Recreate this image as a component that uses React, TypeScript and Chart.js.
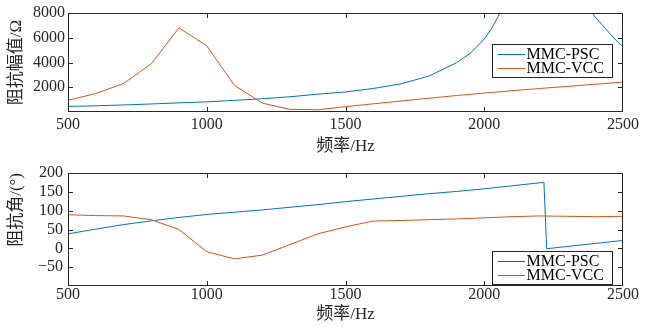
import React, { useEffect, useRef } from 'react';
import { Chart, registerables } from 'chart.js';

Chart.register(...registerables);

// ---------------- data ----------------
const magFreqPSC = [500, 600, 700, 800, 900, 1000, 1100, 1200, 1300, 1400, 1500, 1600, 1700, 1800, 1900,
  1950, 2000, 2025, 2050, 2075, 2100, 2150, 2200, 2250, 2300, 2350, 2375, 2400, 2425, 2450, 2475, 2500];
const magPSC = [450, 500, 570, 650, 740, 820, 940, 1070, 1230, 1440, 1620, 1900, 2280, 2900, 3980,
  4750, 5900, 6700, 7700, 9100, 11000, 19000, 60000, 45000, 17000, 10600, 8500, 7650, 7050, 6400, 5800, 5250];

const magFreqVCC = [500, 600, 700, 800, 900, 1000, 1100, 1200, 1300, 1400, 1500, 1600, 1700, 1800, 1900,
  2000, 2100, 2200, 2300, 2400, 2500];
const magVCC = [950, 1490, 2300, 3900, 6800, 5350, 2140, 720, 210, 180, 430, 660, 890, 1110, 1330,
  1530, 1720, 1900, 2070, 2240, 2420];

const phaseFreqPSC = [500, 600, 700, 800, 900, 1000, 1100, 1200, 1300, 1400, 1500, 1600, 1700, 1800, 1900,
  2000, 2100, 2200, 2215, 2225, 2300, 2400, 2500];
const phasePSC = [38.5, 51, 63, 73, 82, 90, 96, 102, 109, 116, 124, 131, 138, 145, 151,
  158, 166, 174, 175.5, -1, 5, 13, 21];

const phaseFreqVCC = [500, 600, 700, 800, 900, 1000, 1100, 1200, 1300, 1400, 1500, 1600, 1700, 1800, 1900,
  2000, 2100, 2200, 2300, 2400, 2500];
const phaseVCC = [89, 87, 86, 76, 50, -9, -28, -18, 10, 38.5, 57, 72.5, 74, 76, 78,
  81, 84, 86, 85, 84, 85];

const seriesNames = ['MMC-PSC', 'MMC-VCC'];
const xTitle = '频率/Hz';
const magTitle = '阻抗幅值/Ω';
const phaseTitle = '阻抗角/(°)';

// ---------------- styles ----------------
const FONT = "'Liberation Serif', 'Times New Roman', 'Noto Sans CJK SC', serif";
const AXIS_COLOR = '#262626';
const BLUE = '#0072BD';
const ORANGE = '#D95319';

const toPts = (xs: number[], ys: number[]) => xs.map((x, i) => ({ x, y: ys[i] }));
const fmt = (v: number) => (v < 0 ? '\u2212' + String(-v) : String(v));

const matlabAxes = {
  id: 'matlabAxes',
  afterDatasetsDraw(chart: any, _args: any, opts: any) {
    const { ctx, chartArea: a, scales } = chart;
    ctx.save();
    ctx.strokeStyle = AXIS_COLOR;
    ctx.lineWidth = 1;
    const tl = 5;
    ctx.beginPath();
    scales.x.ticks.forEach((t: any) => {
      const px = Math.round(scales.x.getPixelForValue(t.value)) + 0.5;
      if (px <= a.left + 1.5 || px >= a.right - 1.5) return;
      ctx.moveTo(px, a.bottom);
      ctx.lineTo(px, a.bottom - tl);
      ctx.moveTo(px, a.top);
      ctx.lineTo(px, a.top + tl);
    });
    scales.y.ticks.forEach((t: any) => {
      const py = Math.round(scales.y.getPixelForValue(t.value)) + 0.5;
      if (py <= a.top + 1.5 || py >= a.bottom - 1.5) return;
      ctx.moveTo(a.left, py);
      ctx.lineTo(a.left + tl, py);
      ctx.moveTo(a.right, py);
      ctx.lineTo(a.right - tl, py);
    });
    ctx.stroke();
    ctx.strokeRect(a.left + 0.5, a.top + 0.5, a.right - a.left - 1, a.bottom - a.top - 1);

    // legend box
    const lg = opts.legend;
    if (lg) {
      ctx.fillStyle = '#ffffff';
      ctx.fillRect(lg.x, lg.y, lg.w, lg.h);
      ctx.strokeStyle = AXIS_COLOR;
      ctx.strokeRect(lg.x + 0.5, lg.y + 0.5, lg.w, lg.h);
      ctx.font = `16px ${FONT}`;
      ctx.textBaseline = 'middle';
      ctx.textAlign = 'left';
      chart.data.datasets.forEach((ds: any, i: number) => {
        const ry = Math.round(lg.y + lg.rows[i]) + 0.5;
        ctx.strokeStyle = ds.borderColor;
        ctx.beginPath();
        ctx.moveTo(lg.x + 5.5, ry);
        ctx.lineTo(lg.x + 33, ry);
        ctx.stroke();
        ctx.fillStyle = '#000000';
        ctx.fillText(ds.label, lg.x + 34.5, ry + 0.5);
      });
    }
    ctx.restore();
  },
};

function makeConfig(opts: any): any {
  const tickFont = { family: FONT, size: 16, lineHeight: 1 };
  const titleFont = { family: FONT, size: 17 };
  return {
    type: 'line',
    data: {
      datasets: [
        { label: seriesNames[0], data: opts.psc, borderColor: BLUE, borderWidth: 1, pointRadius: 0, tension: 0, order: 2 },
        { label: seriesNames[1], data: opts.vcc, borderColor: ORANGE, borderWidth: 1, pointRadius: 0, tension: 0, order: 1 },
      ],
    },
    options: {
      animation: false,
      responsive: false,
      devicePixelRatio: 1,
      events: [],
      layout: { padding: { left: 0, right: 26, top: opts.padTop, bottom: 0 } },
      plugins: {
        legend: { display: false },
        tooltip: { enabled: false },
        matlabAxes: { legend: opts.legend },
      },
      scales: {
        x: {
          type: 'linear',
          min: 500,
          max: 2500,
          ticks: {
            stepSize: 500,
            color: AXIS_COLOR,
            font: tickFont,
            padding: opts.xTickPad,
            maxRotation: 0,
            autoSkip: false,
            callback: (v: number) => fmt(v),
          },
          grid: { display: false, drawTicks: false },
          border: { display: false },
          title: { display: true, text: xTitle, color: AXIS_COLOR, font: titleFont, padding: { top: opts.xTitlePad, bottom: opts.xTitlePad } },
          afterFit: (s: any) => { s.height = opts.xHeight; },
        },
        y: {
          type: 'linear',
          min: opts.yMin,
          max: opts.yMax,
          ticks: {
            stepSize: opts.yStep,
            color: AXIS_COLOR,
            font: tickFont,
            padding: opts.yTickPad,
            autoSkip: false,
            callback: (v: number) => (v === opts.yMin ? '' : fmt(v)),
          },
          grid: { display: false, drawTicks: false },
          border: { display: false },
          title: { display: true, text: opts.yTitle, color: AXIS_COLOR, font: titleFont, align: opts.yAlign, padding: { top: 6.5, bottom: 6.5 } },
          afterFit: (s: any) => { s.width = 68; },
        },
      },
    },
    plugins: [matlabAxes],
  };
}

export default function App() {
  const topRef = useRef<HTMLCanvasElement>(null);
  const botRef = useRef<HTMLCanvasElement>(null);

  useEffect(() => {
    const c1 = new Chart(topRef.current as HTMLCanvasElement, makeConfig({
      psc: toPts(magFreqPSC, magPSC),
      vcc: toPts(magFreqVCC, magVCC),
      padTop: 13,
      xHeight: 48,
      xTickPad: 4.5,
      xTitlePad: 3,
      yMin: 0,
      yMax: 8000,
      yStep: 2000,
      yTickPad: 3,
      yTitle: magTitle,
      yAlign: 'center',
      legend: { x: 492, y: 44, w: 120, h: 33, rows: [10, 23.5] },
    }));
    const c2 = new Chart(botRef.current as HTMLCanvasElement, makeConfig({
      psc: toPts(phaseFreqPSC, phasePSC),
      vcc: toPts(phaseFreqVCC, phaseVCC),
      padTop: 9,
      xHeight: 41,
      xTickPad: 0.5,
      xTitlePad: 2,
      yMin: -100,
      yMax: 200,
      yStep: 50,
      yTickPad: 5,
      yTitle: phaseTitle,
      yAlign: 'end',
      legend: { x: 492, y: 91, w: 120, h: 33, rows: [10, 23.5] },
    }));
    return () => {
      c1.destroy();
      c2.destroy();
    };
  }, []);

  return (
    <div style={{ position: 'absolute', left: 0, top: 0, width: 649, height: 327, background: '#ffffff' }}>
      <canvas ref={topRef} width={649} height={160} style={{ position: 'absolute', left: 0, top: 0, width: 649, height: 160 }} />
      <canvas ref={botRef} width={649} height={167} style={{ position: 'absolute', left: 0, top: 160, width: 649, height: 167 }} />
    </div>
  );
}
